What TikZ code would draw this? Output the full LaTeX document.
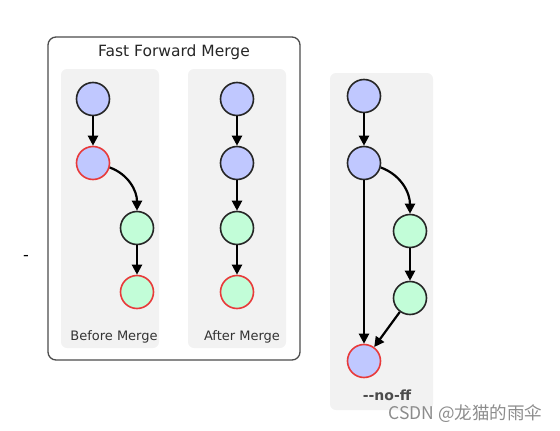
\documentclass[tikz,border=0pt]{standalone}
\usepackage{fontspec}
\setmainfont{DejaVu Sans}
\newfontfamily\cjk{Noto Sans CJK SC}
\usetikzlibrary{arrows.meta}
\definecolor{cblue}{HTML}{C0C8FF}
\definecolor{cgreen}{HTML}{C2FDD8}
\definecolor{cred}{HTML}{E83A3A}
\definecolor{panelgray}{HTML}{F2F2F2}
\begin{document}
\begin{tikzpicture}[x=1pt,y=-1pt,
  commit/.style={circle, draw=black!85, line width=1.6pt, minimum size=33pt, inner sep=0pt},
  bluec/.style={commit, fill=cblue},
  greenc/.style={commit, fill=cgreen},
  headc/.style={draw=cred},
  panel/.style={fill=panelgray, rounded corners=6pt},
  arr/.style={-{Triangle[length=10pt,width=10pt]}, line width=2.2pt, black},
  lbl/.style={font=\fontsize{13}{15}\selectfont, text=black!80}
]
\useasboundingbox (0,0) rectangle (560,431);
% outer frame
\draw[black!70, line width=1.3pt, rounded corners=8pt] (48,37) rectangle (300,360);
\node[font=\fontsize{15.5}{18}\selectfont, text=black!85] (title) at (174,52) {Fast Forward Merge};
% panels
\fill[panel] (61,69) rectangle (159,348);
\fill[panel] (188,69) rectangle (286,348);
\fill[panel] (330,73) rectangle (433,410);
% before merge
\node[bluec] (b1) at (93,99) {};
\node[bluec, headc] (b2) at (93,163) {};
\node[greenc] (b3) at (137,228) {};
\node[greenc, headc] (b4) at (137,292) {};
\draw[arr] (b1) -- (b2);
\draw[arr] (b2.-15) to[out=-20,in=90] (b3.north);
\draw[arr] (b3) -- (b4);
\node[lbl] (lb) at (114,337) {Before Merge};
% after merge
\node[bluec] (a1) at (237,99) {};
\node[bluec] (a2) at (237,163) {};
\node[greenc] (a3) at (237,228) {};
\node[greenc, headc] (a4) at (237,292) {};
\draw[arr] (a1) -- (a2);
\draw[arr] (a2) -- (a3);
\draw[arr] (a3) -- (a4);
\node[lbl] (la) at (242,337) {After Merge};
% no-ff
\node[bluec] (n1) at (364,96) {};
\node[bluec] (n2) at (364,163) {};
\node[greenc] (n3) at (410,231) {};
\node[greenc] (n4) at (410,298) {};
\node[bluec, headc] (n5) at (364,361) {};
\draw[arr] (n1) -- (n2);
\draw[arr] (n2.-15) to[out=-20,in=90] (n3.north);
\draw[arr] (n3) -- (n4);
\draw[arr] (n2) -- (n5);
\draw[arr] (n4) -- (n5);
\node[lbl, font=\fontsize{14}{16}\selectfont\bfseries, text=black!70] (lnf) at (387,395) {-{}-no-ff};
% dash
\node[font=\fontsize{16}{18}\selectfont] (dash) at (26,258) {-};
% watermark
\node[font=\cjk\fontsize{17.5}{20}\selectfont, text=black!45, anchor=east] (wm) at (546,414) {CSDN @龙猫的雨伞};
\end{tikzpicture}
\end{document}
